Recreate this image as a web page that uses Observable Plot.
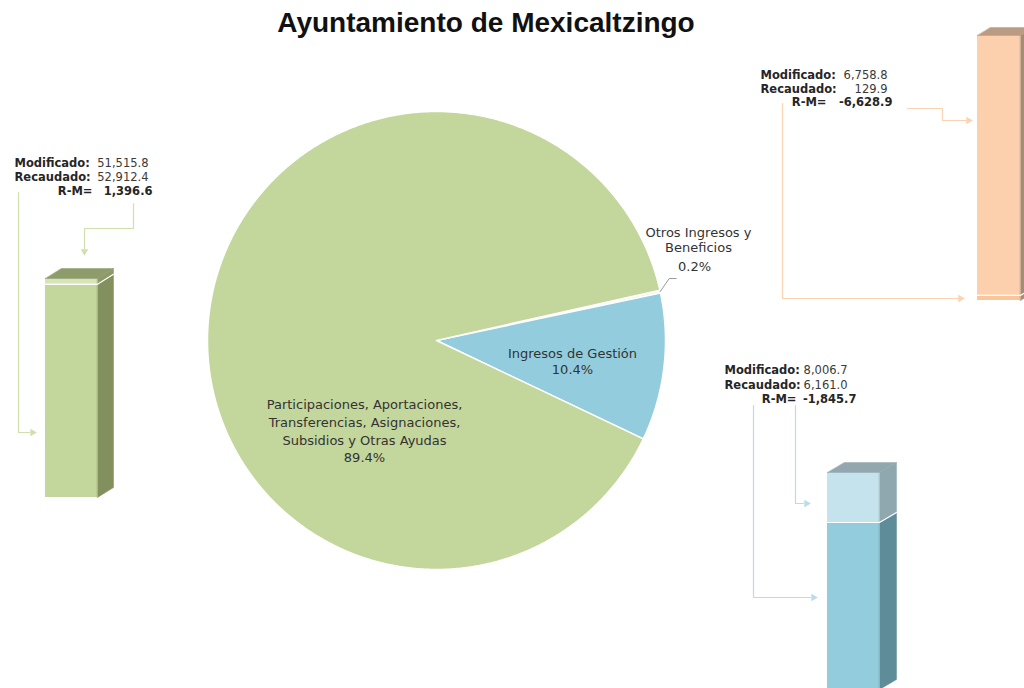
<!DOCTYPE html>
<html><head><meta charset="utf-8">
<script src="https://cdn.jsdelivr.net/npm/d3@7"></script>
<script src="https://cdn.jsdelivr.net/npm/@observablehq/plot@0.6"></script>
<style>
body{margin:0;background:#fff;position:relative;}
#title{position:absolute;top:0;left:0;width:1024px;height:44px;box-sizing:border-box;padding-top:7px;padding-right:52px;text-align:center;font:bold 28px "Liberation Sans",Arial,sans-serif;line-height:32px;color:#111;white-space:nowrap;z-index:2;}
#chart svg{display:block;}
</style></head><body>
<div id="title">Ayuntamiento de Mexicaltzingo</div>
<div id="chart"></div>
<script>
// ---------- data ----------
const sliceNames = ["Otros Ingresos y\nBeneficios", "Ingresos de Gestión", "Participaciones, Aportaciones,\nTransferencias, Asignaciones,\nSubsidios y Otras Ayudas"];
const slicePercents = [0.2, 10.4, 89.4];
const sliceColors = ["#f2f5ea", "#93cddd", "#c3d69b"];

const barNames = ["Otros Ingresos y Beneficios", "Ingresos de Gestión", "Participaciones, Aportaciones, Transferencias, Asignaciones, Subsidios y Otras Ayudas"];
const modificado = [6758.8, 8006.7, 51515.8];
const recaudado = [129.9, 6161.0, 52912.4];
const diferencia = [-6628.9, -1845.7, 1396.6];
const rowLabels = ["Modificado:", "Recaudado:", "R-M="];

// ---------- layout (positions / styles) ----------
const pieLayout = {cx: 436, cy: 340, r: 229, start: 77.3};
const sliceLabelLayout = [
  {x: 698, y: 239, px: 694, py: 266, lh: 1.2},
  {x: 572, y: 352, px: 572, py: 369, lh: 1.2},
  {x: 364, y: 421, px: 364, py: 457, lh: 1.38}
];
const barLayout = [
  {x: 977, w: 43, base: 300, h: 265, dx: 13, dy: -8,
   main: "#f9c59b", light: "#fcd0ac", sideMain: "#ab8b70", sideLight: "#ab8b70", top: "#bb9c82",
   line: "#fbd3b2", tx: 760, vx: 887, vxRM: 892, rmEnd: 826, ty: 75, gap: 13.5,
   paths: [[[907,108],[942,108],[942,120],[966,120]], [[782,103],[782,298],[958,298]]],
   heads: [[968,120,90],[960,298,90]]},
  {x: 827, w: 52, base: 689, h: 217, dx: 17, dy: -10,
   main: "#93cddd", light: "#c5e3ec", sideMain: "#5e8c98", sideLight: "#8fa8af", top: "#93a8ae",
   line: "#b9dde7", tx: 724, vx: 847, vxRM: 856, rmEnd: 796, ty: 370, gap: 14.5,
   paths: [[[795,405],[795,503],[803,503]], [[753,405],[753,597],[810,597]]],
   heads: [[806,503,90],[813,597,90]]},
  {x: 45, w: 52, base: 497, h: 219, dx: 16, dy: -10,
   main: "#c3d69b", light: "#d6e4ba", sideMain: "#82905e", sideLight: "#8c9a6a", top: "#8e9c6c",
   line: "#cfe0ae", tx: 14, vx: 148, vxRM: 152, rmEnd: 92, ty: 163, gap: 14,
   paths: [[[18,192],[18,432],[29,432]], [[133,203],[133,228],[84,228],[84,248]]],
   heads: [[32,432,90],[84,251,180]]}
];
const textColor = "#262626";
const fmt = v => (v < 0 ? "-" : "") + d3.format(",.1f")(Math.abs(v));

// ---------- marks ----------
const marks = [];
const poly = (pts, fill, extra = {}) => Plot.line(pts, {x: d => d[0], y: d => d[1], curve: "linear-closed", fill, stroke: fill, strokeWidth: 0.5, ...extra});

// pie
const a0 = pieLayout.start * Math.PI / 180;
const arcs = d3.pie().sort(null).startAngle(a0).endAngle(a0 + 2 * Math.PI)(slicePercents);
arcs.forEach((a, i) => {
  const {cx, cy, r} = pieLayout;
  const pts = [[cx, cy]];
  const n = Math.max(2, Math.ceil((a.endAngle - a.startAngle) / (Math.PI / 360)));
  for (let k = 0; k <= n; k++) {
    const t = a.startAngle + (a.endAngle - a.startAngle) * k / n;
    pts.push([cx + r * Math.sin(t), cy - r * Math.cos(t)]);
  }
  marks.push(poly(pts, sliceColors[i], {stroke: "#ffffff", strokeWidth: 1.5, strokeLinejoin: "round"}));
});
// leader line for small slice
{
  const a = arcs[0], mid = (a.startAngle + a.endAngle) / 2, {cx, cy, r} = pieLayout;
  const p0 = [cx + r * Math.sin(mid), cy - r * Math.cos(mid)];
  marks.push(Plot.line([p0, [p0[0] + 9, p0[1] - 13], [p0[0] + 16, p0[1] - 13]], {x: d => d[0], y: d => d[1], stroke: "#808080", strokeWidth: 0.8}));
}
// pie labels
sliceNames.forEach((name, i) => {
  const L = sliceLabelLayout[i];
  marks.push(Plot.text([name], {x: () => L.x, y: () => L.y, text: d => d, fontSize: 13, fontFamily: "DejaVu Sans", fill: "#333", lineHeight: L.lh}));
  marks.push(Plot.text([slicePercents[i]], {x: () => L.px, y: () => L.py, text: d => d.toFixed(1) + "%", fontSize: 13, fontFamily: "DejaVu Sans", fill: "#333"}));
});

// bars
barNames.forEach((name, i) => {
  const L = barLayout[i];
  const total = Math.max(modificado[i], recaudado[i]);
  const lower = Math.min(modificado[i], recaudado[i]);
  const k = L.h / total;
  const yTop = L.base - total * k, yMid = L.base - lower * k;
  const x1 = L.x, x2 = L.x + L.w;
  // front faces
  marks.push(Plot.rect([{y1: yMid, y2: L.base}], {x1: () => x1, x2: () => x2, y1: "y1", y2: "y2", fill: L.main}));
  marks.push(Plot.rect([{y1: yTop, y2: yMid}], {x1: () => x1, x2: () => x2, y1: "y1", y2: "y2", fill: L.light}));
  // side faces
  marks.push(poly([[x2, L.base], [x2 + L.dx, L.base + L.dy], [x2 + L.dx, yMid + L.dy], [x2, yMid]], L.sideMain));
  marks.push(poly([[x2, yMid], [x2 + L.dx, yMid + L.dy], [x2 + L.dx, yTop + L.dy], [x2, yTop]], L.sideLight));
  // top face
  marks.push(poly([[x1, yTop], [x2, yTop], [x2 + L.dx, yTop + L.dy], [x1 + L.dx, yTop + L.dy]], L.top));
  // separator
  marks.push(Plot.line([[x1, yMid], [x2, yMid], [x2 + L.dx, yMid + L.dy]], {x: d => d[0], y: d => d[1], stroke: "#ffffff", strokeWidth: 1.2}));
  // connectors
  L.paths.forEach(p => marks.push(Plot.line(p, {x: d => d[0], y: d => d[1], stroke: L.line, strokeWidth: 1.2})));
  marks.push(Plot.dot(L.heads, {x: d => d[0], y: d => d[1], rotate: d => d[2], symbol: "triangle2", r: 3.6, fill: L.line, stroke: null}));
  // annotation text
  const vals = [modificado[i], recaudado[i], diferencia[i]];
  const rows = rowLabels.map((lab, j) => ({lab, val: vals[j], y: L.ty + j * L.gap, j}));
  marks.push(Plot.text(rows.filter(d => d.j < 2), {x: () => L.tx, y: "y", text: "lab", textAnchor: "start", fontWeight: "bold", fontSize: 11.5, fontFamily: "DejaVu Sans", fill: textColor}));
  marks.push(Plot.text(rows.filter(d => d.j === 2), {x: () => L.rmEnd, y: "y", text: "lab", textAnchor: "end", fontWeight: "bold", fontSize: 11.5, fontFamily: "DejaVu Sans", fill: textColor}));
  marks.push(Plot.text(rows.filter(d => d.j < 2), {x: () => L.vx, y: "y", text: d => fmt(d.val), textAnchor: "end", fontSize: 11.5, fontFamily: "DejaVu Sans", fill: "#3a3a3a"}));
  marks.push(Plot.text(rows.filter(d => d.j === 2), {x: () => L.vxRM, y: "y", text: d => fmt(d.val), textAnchor: "end", fontWeight: "bold", fontSize: 11.5, fontFamily: "DejaVu Sans", fill: textColor}));
});

const chart = Plot.plot({
  width: 1024, height: 688, margin: 0,
  style: {background: "transparent"},
  x: {domain: [0, 1024], range: [0, 1024], axis: null},
  y: {domain: [0, 688], range: [0, 688], axis: null},
  marks
});
document.getElementById("chart").appendChild(chart);
</script>
</body></html>
